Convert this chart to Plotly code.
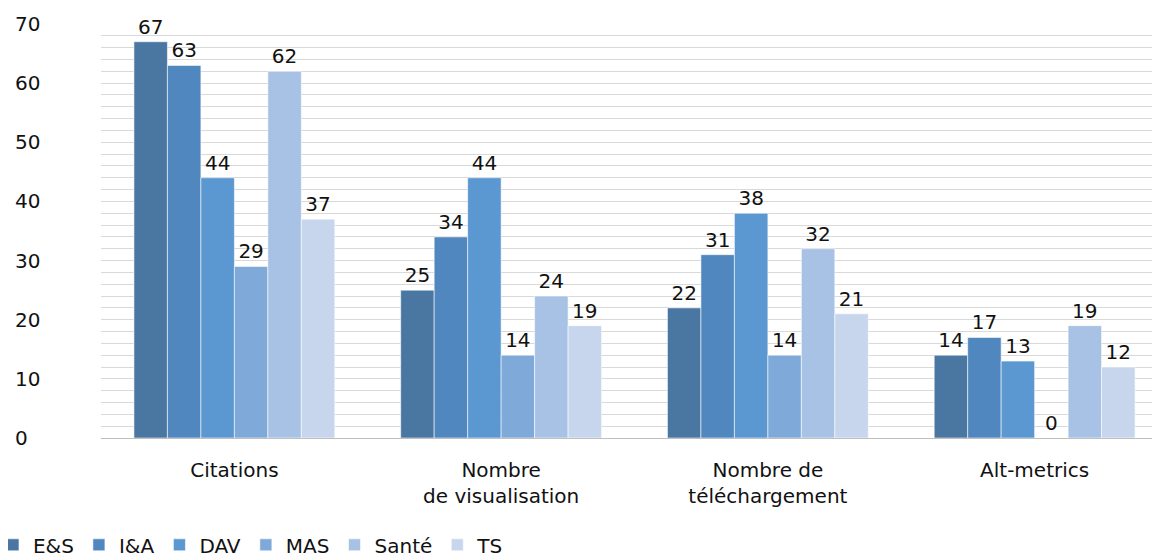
import plotly.graph_objects as go

categories = ["Citations", "Nombre<br>de visualisation", "Nombre de<br>téléchargement", "Alt-metrics"]
series_names = ["E&S", "I&A", "DAV", "MAS", "Santé", "TS"]
es = [67, 25, 22, 14]
ia = [63, 34, 31, 17]
dav = [44, 44, 38, 13]
mas = [29, 14, 14, 0]
sante = [62, 24, 32, 19]
ts = [37, 19, 21, 12]
values = [es, ia, dav, mas, sante, ts]
colors = ["#4a76a2", "#5187bf", "#5b97d0", "#7ea9d8", "#a8c2e5", "#c7d6ed"]
y_ticks = [0, 10, 20, 30, 40, 50, 60, 70]

FONT = "DejaVu Sans, Liberation Sans, Arial, sans-serif"
FS = 20

fig = go.Figure()
for name, vals, col in zip(series_names, values, colors):
    fig.add_trace(go.Bar(
        name=name, x=categories, y=vals,
        marker=dict(color=col, line=dict(color="rgba(255,255,255,0.7)", width=0.8)),
        text=[str(v) for v in vals], textposition="outside",
        textfont=dict(family=FONT, size=FS, color="#111"),
        cliponaxis=False,
    ))

for t in y_ticks:
    fig.add_annotation(x=0, xref="paper", xshift=-88, y=t, yref="y",
                       text=str(t), showarrow=False, xanchor="left",
                       font=dict(family=FONT, size=FS, color="#111"))

fig.update_layout(
    width=1152, height=551,
    margin=dict(l=93, r=0, t=16, b=121, autoexpand=False),
    plot_bgcolor="white", paper_bgcolor="white",
    barmode="group", bargap=0.247, bargroupgap=0,
    font=dict(family=FONT, size=FS, color="#111"),
    xaxis=dict(range=[-0.5, 3.47], showgrid=False, showline=False, ticks="",
               ticklabelstandoff=18,
               tickfont=dict(family=FONT, size=FS, color="#111")),
    yaxis=dict(range=[0, 70], dtick=2, showgrid=True, gridcolor="#d9d9d9", gridwidth=1,
               showticklabels=False, zeroline=True, zerolinecolor="#bfbfbf", zerolinewidth=1),
    legend=dict(orientation="h", xref="paper", yref="paper", x=-0.102, y=-0.258,
                xanchor="left", yanchor="middle", entrywidth=0, itemwidth=30,
                font=dict(family=FONT, size=FS, color="#111")),
    showlegend=True,
)

fig.write_html("out.html")
